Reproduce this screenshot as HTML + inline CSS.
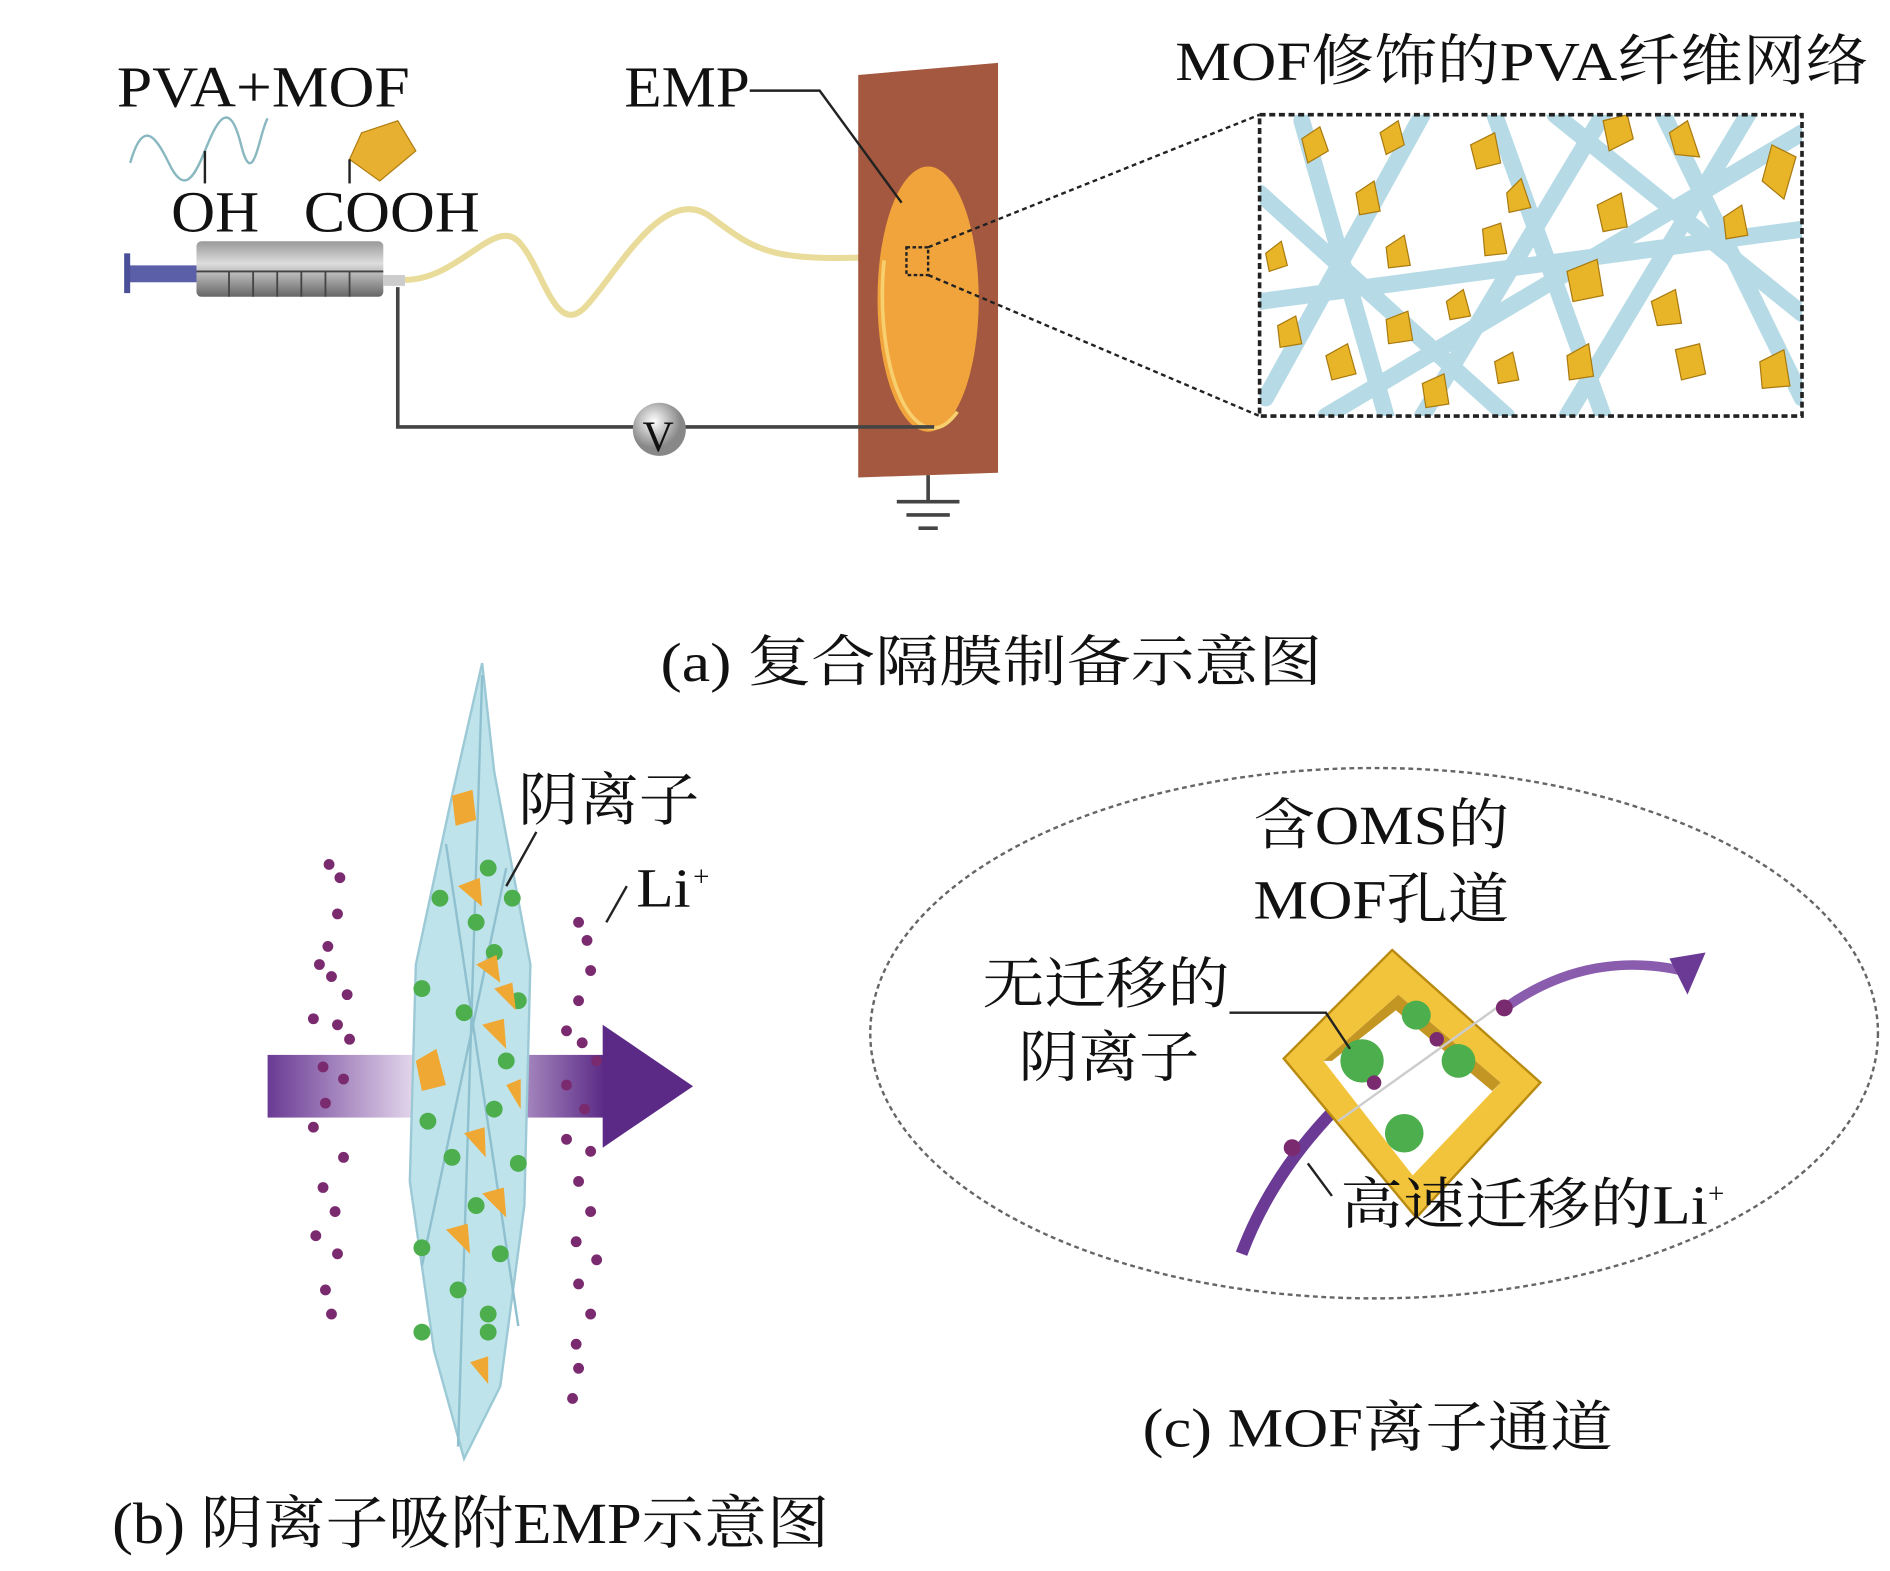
<!DOCTYPE html>
<html><head><meta charset="utf-8"><style>
html,body{margin:0;padding:0;background:#fff;}
svg{display:block;}
text{font-family:"Liberation Serif","Noto Serif CJK SC",serif;fill:#111;}
</style></head><body>
<svg width="1890" height="1571" viewBox="0 0 1568 1303" xmlns="http://www.w3.org/2000/svg">
<defs>
<linearGradient id="arr" x1="0" x2="1" y1="0" y2="0">
<stop offset="0" stop-color="#6a3a94"/><stop offset="0.45" stop-color="#e8dcef"/><stop offset="0.6" stop-color="#d8c6e4"/><stop offset="1" stop-color="#5b2a86"/></linearGradient>
<linearGradient id="bar" x1="0" x2="0" y1="0" y2="1"><stop offset="0" stop-color="#999"/><stop offset="0.4" stop-color="#ddd"/><stop offset="1" stop-color="#666"/></linearGradient>
<radialGradient id="vg" cx="0.4" cy="0.35"><stop offset="0" stop-color="#fff"/><stop offset="1" stop-color="#888"/></radialGradient>
<clipPath id="box"><rect x="1045" y="95" width="450" height="250"/></clipPath>
</defs>

<!-- (a) -->
<text x="97" y="88" font-size="48" textLength="243" lengthAdjust="spacingAndGlyphs">PVA+MOF</text>
<path d="M108,135 C118,100 128,110 140,135 S160,150 170,125 S190,80 200,120 S215,110 222,98" fill="none" stroke="#8ab8c0" stroke-width="2"/>
<line x1="170" y1="125" x2="170" y2="152" stroke="#222" stroke-width="2"/>
<text x="142" y="192" font-size="48" textLength="73" lengthAdjust="spacingAndGlyphs">OH</text>
<polygon points="300,110 330,100 345,125 315,150 290,132" fill="#e8b030" stroke="#b07d10"/>
<line x1="290" y1="132" x2="290" y2="152" stroke="#222" stroke-width="2"/>
<text x="252" y="192" font-size="48" textLength="146" lengthAdjust="spacingAndGlyphs">COOH</text>

<rect x="105" y="220" width="60" height="14" fill="#5a5fa8"/>
<rect x="103" y="210" width="5" height="33" fill="#4a4f98"/>
<rect x="163" y="200" width="155" height="46" rx="4" fill="url(#bar)"/>
<g stroke="#444" stroke-width="1.5"><line x1="190" y1="225" x2="190" y2="246"/><line x1="210" y1="225" x2="210" y2="246"/><line x1="230" y1="225" x2="230" y2="246"/><line x1="250" y1="225" x2="250" y2="246"/><line x1="270" y1="225" x2="270" y2="246"/><line x1="290" y1="225" x2="290" y2="246"/><line x1="163" y1="225" x2="318" y2="225"/></g>
<rect x="318" y="228" width="18" height="9" fill="#ccc"/>
<path d="M336,232 C380,232 410,180 430,200 S460,280 485,255 S550,150 590,180 S640,218 748,212" fill="none" stroke="#e9dc9a" stroke-width="5"/>
<polyline points="330,238 330,354 775,354" fill="none" stroke="#444" stroke-width="3"/>

<polygon points="712,62 828,52 828,392 712,396" fill="#a3583f"/>
<ellipse cx="770" cy="248" rx="42" ry="110" fill="#f1a43c"/>
<ellipse cx="774" cy="245" rx="42" ry="110" fill="none" stroke="#f7cf6e" stroke-width="3" stroke-dasharray="0 100 180 400"/>
<line x1="712" y1="354" x2="775" y2="354" stroke="#444" stroke-width="3"/>
<circle cx="547" cy="356" r="22" fill="url(#vg)"/>
<text x="533" y="374" font-size="36">V</text>
<line x1="770" y1="394" x2="770" y2="416" stroke="#444" stroke-width="3"/>
<line x1="744" y1="416" x2="796" y2="416" stroke="#444" stroke-width="3"/>
<line x1="752" y1="427" x2="788" y2="427" stroke="#444" stroke-width="3"/>
<line x1="762" y1="438" x2="778" y2="438" stroke="#444" stroke-width="3"/>

<text x="518" y="88" font-size="48" textLength="104" lengthAdjust="spacingAndGlyphs">EMP</text>
<polyline points="622,75 680,75 748,168" fill="none" stroke="#222" stroke-width="2"/>
<rect x="752" y="205" width="18" height="23" fill="none" stroke="#222" stroke-width="2" stroke-dasharray="3,2"/>
<line x1="770" y1="205" x2="1045" y2="95" stroke="#222" stroke-width="2" stroke-dasharray="4,3"/>
<line x1="770" y1="228" x2="1045" y2="345" stroke="#222" stroke-width="2" stroke-dasharray="4,3"/>

<g clip-path="url(#box)">
<rect x="1045" y="95" width="450" height="250" fill="#fff"/>
<g stroke="#b7dbe6" stroke-width="14" stroke-linecap="round">
<line x1="1080" y1="100" x2="1150" y2="345"/><line x1="1180" y1="95" x2="1050" y2="330"/>
<line x1="1240" y1="95" x2="1330" y2="345"/><line x1="1330" y1="95" x2="1180" y2="345"/>
<line x1="1290" y1="95" x2="1495" y2="260"/><line x1="1450" y1="95" x2="1300" y2="345"/>
<line x1="1045" y1="250" x2="1495" y2="190"/><line x1="1100" y1="345" x2="1495" y2="110"/>
<line x1="1380" y1="95" x2="1495" y2="330"/><line x1="1045" y1="160" x2="1250" y2="345"/>
</g>
<g fill="#e8b428" stroke="#a87a10" stroke-width="1">
<polygon points="1080,115 1095,105 1102,125 1085,135"/><polygon points="1145,110 1160,100 1165,120 1150,128"/>
<polygon points="1220,120 1240,110 1245,135 1225,140"/><polygon points="1330,100 1350,95 1355,115 1335,125"/>
<polygon points="1385,110 1400,100 1410,130 1390,128"/><polygon points="1470,120 1490,130 1480,165 1462,150"/>
<polygon points="1125,160 1140,150 1145,175 1128,178"/><polygon points="1250,160 1262,148 1270,172 1252,176"/>
<polygon points="1325,170 1345,160 1350,188 1330,192"/><polygon points="1430,180 1445,170 1450,195 1432,198"/>
<polygon points="1050,210 1063,200 1068,220 1053,225"/><polygon points="1150,205 1165,195 1170,220 1152,222"/>
<polygon points="1230,190 1245,185 1250,210 1232,212"/><polygon points="1300,225 1325,215 1330,245 1305,250"/>
<polygon points="1200,250 1214,240 1220,262 1203,265"/><polygon points="1370,250 1390,240 1395,268 1375,270"/>
<polygon points="1060,270 1075,262 1080,285 1062,288"/><polygon points="1150,265 1168,258 1172,282 1152,285"/>
<polygon points="1100,295 1118,285 1125,310 1105,315"/><polygon points="1300,295 1318,285 1322,312 1302,315"/>
<polygon points="1390,290 1410,285 1415,310 1395,315"/><polygon points="1460,300 1480,290 1485,320 1462,322"/>
<polygon points="1180,318 1198,310 1202,335 1183,338"/><polygon points="1240,300 1255,292 1260,315 1243,318"/>
</g>
</g>
<rect x="1045" y="95" width="450" height="250" fill="none" stroke="#222" stroke-width="3" stroke-dasharray="5,3"/>
<text x="975" y="66" font-size="46" textLength="575" lengthAdjust="spacingAndGlyphs">MOF修饰的PVA纤维网络</text>
<text x="548" y="565" font-size="46" textLength="549" lengthAdjust="spacingAndGlyphs">(a) 复合隔膜制备示意图</text>

<!-- (b) -->
<rect x="222" y="875" width="280" height="52" fill="url(#arr)"/>
<polygon points="500,850 575,901 500,952" fill="#5b2a86"/>
<polygon points="400,550 410,640 440,800 435,1000 415,1150 385,1210 360,1120 340,980 345,800 375,660" fill="#bfe3ea" stroke="#9cc9d6" stroke-width="2"/>
<g stroke="#8fc0cf" stroke-width="2" fill="none"><path d="M400,560 L380,1200"/><path d="M370,700 L430,1100"/><path d="M420,720 L350,1050"/></g>
<g fill="#4cae4c">
<circle cx="405" cy="720" r="7"/><circle cx="425" cy="745" r="7"/><circle cx="365" cy="745" r="7"/><circle cx="395" cy="765" r="7"/>
<circle cx="410" cy="790" r="7"/><circle cx="350" cy="820" r="7"/><circle cx="430" cy="830" r="7"/><circle cx="385" cy="840" r="7"/>
<circle cx="420" cy="880" r="7"/><circle cx="355" cy="930" r="7"/><circle cx="410" cy="920" r="7"/><circle cx="375" cy="960" r="7"/>
<circle cx="430" cy="965" r="7"/><circle cx="395" cy="1000" r="7"/><circle cx="350" cy="1035" r="7"/><circle cx="415" cy="1040" r="7"/>
<circle cx="380" cy="1070" r="7"/><circle cx="405" cy="1090" r="7"/><circle cx="350" cy="1105" r="7"/><circle cx="405" cy="1105" r="7"/>
</g>
<g fill="#f0a834">
<polygon points="375,660 392,655 395,680 378,685"/><polygon points="380,735 398,728 400,752"/><polygon points="395,800 412,792 415,815"/>
<polygon points="345,880 362,870 370,900 350,905"/><polygon points="400,850 418,845 420,870"/><polygon points="420,900 432,895 432,920"/>
<polygon points="385,940 402,935 403,960"/><polygon points="400,990 418,985 420,1010"/><polygon points="370,1020 388,1015 390,1040"/>
<polygon points="390,1130 405,1125 405,1148"/><polygon points="410,820 425,815 428,838"/>
</g>
<g fill="#7a2a6e">
<circle cx="273" cy="717" r="4.5"/><circle cx="282" cy="728" r="4.5"/><circle cx="280" cy="758" r="4.5"/><circle cx="272" cy="785" r="4.5"/>
<circle cx="265" cy="800" r="4.5"/><circle cx="275" cy="810" r="4.5"/><circle cx="288" cy="825" r="4.5"/><circle cx="260" cy="845" r="4.5"/>
<circle cx="280" cy="850" r="4.5"/><circle cx="290" cy="862" r="4.5"/><circle cx="268" cy="885" r="4.5"/><circle cx="285" cy="895" r="4.5"/>
<circle cx="270" cy="915" r="4.5"/><circle cx="260" cy="935" r="4.5"/><circle cx="285" cy="960" r="4.5"/><circle cx="268" cy="985" r="4.5"/>
<circle cx="278" cy="1005" r="4.5"/><circle cx="262" cy="1025" r="4.5"/><circle cx="280" cy="1040" r="4.5"/><circle cx="270" cy="1070" r="4.5"/>
<circle cx="275" cy="1090" r="4.5"/>
<circle cx="480" cy="765" r="4.5"/><circle cx="487" cy="780" r="4.5"/><circle cx="490" cy="805" r="4.5"/><circle cx="480" cy="830" r="4.5"/>
<circle cx="470" cy="855" r="4.5"/><circle cx="483" cy="865" r="4.5"/><circle cx="495" cy="880" r="4.5"/><circle cx="470" cy="900" r="4.5"/>
<circle cx="485" cy="920" r="4.5"/><circle cx="470" cy="945" r="4.5"/><circle cx="490" cy="955" r="4.5"/><circle cx="480" cy="980" r="4.5"/>
<circle cx="490" cy="1005" r="4.5"/><circle cx="478" cy="1030" r="4.5"/><circle cx="495" cy="1045" r="4.5"/><circle cx="480" cy="1065" r="4.5"/>
<circle cx="490" cy="1090" r="4.5"/><circle cx="478" cy="1115" r="4.5"/><circle cx="480" cy="1135" r="4.5"/><circle cx="475" cy="1160" r="4.5"/>
</g>
<text x="430" y="680" font-size="48" textLength="150" lengthAdjust="spacingAndGlyphs">阴离子</text>
<line x1="445" y1="690" x2="420" y2="735" stroke="#222" stroke-width="2"/>
<text x="528" y="752" font-size="46" textLength="45" lengthAdjust="spacingAndGlyphs">Li</text>
<text x="575" y="735" font-size="24">+</text>
<line x1="520" y1="735" x2="503" y2="765" stroke="#222" stroke-width="2"/>
<text x="93" y="1280" font-size="48" textLength="595" lengthAdjust="spacingAndGlyphs">(b) 阴离子吸附EMP示意图</text>

<!-- (c) -->
<ellipse cx="1140" cy="857" rx="418" ry="220" fill="none" stroke="#666" stroke-width="2" stroke-dasharray="4,3"/>
<text x="1040" y="700" font-size="46" textLength="212" lengthAdjust="spacingAndGlyphs">含OMS的</text>
<text x="1040" y="762" font-size="46" textLength="212" lengthAdjust="spacingAndGlyphs">MOF孔道</text>
<path d="M1030,1040 C1060,960 1120,900 1180,860" fill="none" stroke="#6a3a94" stroke-width="10"/>
<path d="M1250,835 C1300,800 1350,795 1395,805" fill="none" stroke="#8a5cae" stroke-width="8"/>
<polygon points="1385,795 1415,790 1400,825" fill="#6a3a94"/>
<polygon points="1155,788 1278,898 1175,1010 1065,878" fill="#f2c43c" stroke="#b88a10" stroke-width="2"/>
<polygon points="1160,825 1245,898 1172,975 1098,880" fill="#fff"/>
<polygon points="1160,825 1245,898 1238,905 1158,838 1105,880 1098,880" fill="#c39522"/>
<circle cx="1130" cy="880" r="18" fill="#4cae4c"/><circle cx="1165" cy="940" r="16" fill="#4cae4c"/>
<circle cx="1210" cy="880" r="14" fill="#4cae4c"/><circle cx="1175" cy="842" r="12" fill="#4cae4c"/>
<line x1="1110" y1="930" x2="1250" y2="830" stroke="#ccc" stroke-width="2"/>
<circle cx="1140" cy="898" r="6" fill="#7a2a6e"/><circle cx="1192" cy="862" r="6" fill="#7a2a6e"/>
<circle cx="1248" cy="836" r="7" fill="#7a2a6e"/><circle cx="1072" cy="952" r="7" fill="#7a2a6e"/>
<text x="815" y="832" font-size="46" textLength="205" lengthAdjust="spacingAndGlyphs">无迁移的</text>
<text x="845" y="893" font-size="46" textLength="150" lengthAdjust="spacingAndGlyphs">阴离子</text>
<polyline points="1020,840 1100,840 1120,870" fill="none" stroke="#222" stroke-width="2"/>
<text x="1112" y="1015" font-size="46" textLength="305" lengthAdjust="spacingAndGlyphs">高速迁移的Li</text>
<text x="1417" y="998" font-size="24">+</text>
<line x1="1085" y1="965" x2="1105" y2="992" stroke="#222" stroke-width="2"/>
<text x="948" y="1200" font-size="46" textLength="390" lengthAdjust="spacingAndGlyphs">(c) MOF离子通道</text>
</svg>
</body></html>
